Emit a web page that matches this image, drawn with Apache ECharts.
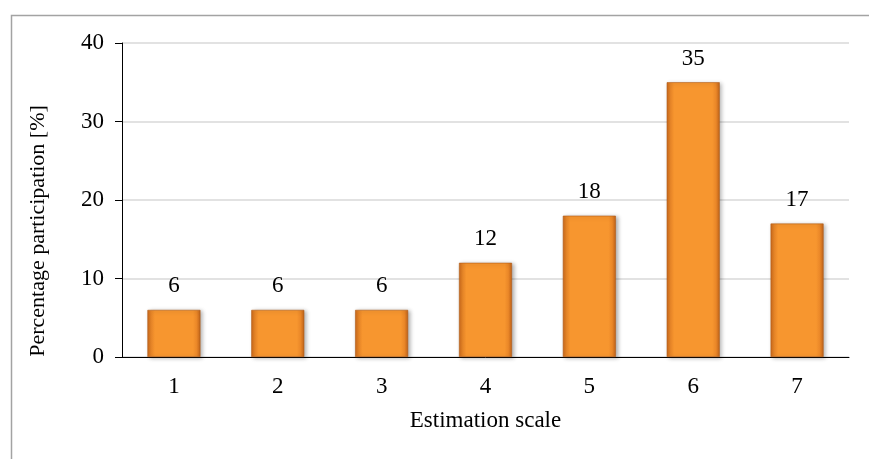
<!DOCTYPE html>
<html>
<head>
<meta charset="utf-8">
<script src="https://cdn.jsdelivr.net/npm/echarts@6/dist/echarts.min.js"></script>
<style>
  html, body { margin: 0; padding: 0; background: #fff; }
  #chart { width: 869px; height: 459px; }
</style>
</head>
<body>
<div id="chart"></div>
<script>
// Rating scale categories and share of participants for each
const categories = ['1', '2', '3', '4', '5', '6', '7'];
const participation = [6, 6, 6, 12, 18, 35, 17];
const yTicks = [0, 10, 20, 30, 40];

const serif = '"Liberation Serif", "Times New Roman", serif';

// Orange bar fill with darker sides to give a bevelled look
const barFill = new echarts.graphic.LinearGradient(0, 0, 1, 0, [
  { offset: 0, color: '#c9691b' },
  { offset: 0.07, color: '#ea8728' },
  { offset: 0.14, color: '#f7962f' },
  { offset: 0.86, color: '#f7962f' },
  { offset: 0.93, color: '#ea8728' },
  { offset: 1, color: '#c0631a' }
]);

const chart = echarts.init(document.getElementById('chart'), null, { renderer: 'canvas' });

chart.setOption({
  animation: false,
  backgroundColor: '#ffffff',
  graphic: [
    {
      type: 'rect',
      left: 9, top: 13,
      shape: { width: 900, height: 500 },
      style: { fill: 'none', stroke: '#a3a3a3', lineWidth: 1.5 },
      silent: true, z: -10
    }
  ],
  grid: { left: 122, right: 20, top: 43, bottom: 102, containLabel: false },
  xAxis: {
    type: 'category',
    data: categories,
    name: 'Estimation scale',
    nameLocation: 'middle',
    nameGap: 52,
    nameTextStyle: { fontFamily: serif, fontSize: 23, color: '#000' },
    axisLine: { lineStyle: { color: '#000', width: 1 } },
    axisTick: { show: false },
    axisLabel: { fontFamily: serif, fontSize: 23, color: '#000', margin: 18 }
  },
  yAxis: {
    type: 'value',
    min: yTicks[0],
    max: yTicks[yTicks.length - 1],
    interval: yTicks[1] - yTicks[0],
    name: 'Percentage participation [%]',
    nameLocation: 'middle',
    nameGap: 73,
    nameTextStyle: { fontFamily: serif, fontSize: 22, color: '#000', padding: [0, 62, 0, 0] },
    axisLine: { show: true, lineStyle: { color: '#000', width: 1 } },
    axisTick: { show: true, length: 7, lineStyle: { color: '#000' } },
    axisLabel: { fontFamily: serif, fontSize: 23, color: '#000', margin: 18 },
    splitLine: { lineStyle: { color: '#d9d9d9', width: 1.5 } }
  },
  series: [
    {
      type: 'bar',
      data: participation,
      barWidth: 53,
      itemStyle: {
        color: barFill,
        borderColor: '#b25c17',
        borderWidth: 0.6,
        shadowColor: 'rgba(0,0,0,0.3)',
        shadowBlur: 4,
        shadowOffsetX: 2,
        shadowOffsetY: 1
      },
      label: {
        show: true,
        position: 'top',
        distance: 12,
        fontFamily: serif,
        fontSize: 23,
        color: '#000'
      }
    }
  ]
});
</script>
</body>
</html>
